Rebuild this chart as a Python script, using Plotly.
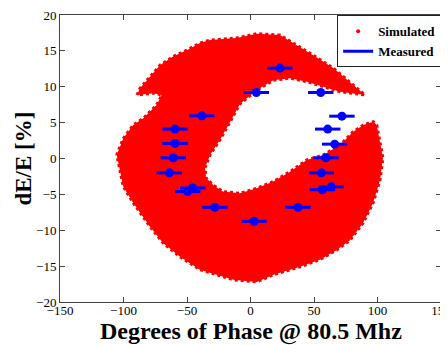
import plotly.graph_objects as go

# Simulated cloud: boundary of the dense red point region
sim_x = [-89.4, -87.0, -79.1, -71.3, -61.0, -50.2, -39.8, -31.9, -10.9, 4.9, 23.2, 36.4, 49.4, 65.2, 78.3, 90.2,
         70.5, 57.3, 44.3, 31.1, 18.0, 4.9, -8.3, -16.1, -24.0, -31.9, -35.8, -35.0, -29.5, -21.7, -8.3, 4.9, 18.0,
         31.1, 44.3, 57.3, 70.5, 80.9, 88.8, 96.7,
         99.4, 104.3, 102.0, 96.5, 88.6, 78.3, 67.9, 54.7, 39.0, 18.0, 4.9, -13.5, -26.6, -39.8, -55.5, -68.7,
         -79.1, -92.3, -100.2, -102.8, -105.3, -100.2, -92.3, -84.4, -79.1, -73.9, -69.9, -76.5, -89.4]
sim_y = [8.85, 9.78, 11.4, 13.0, 14.2, 15.1, 16.1, 16.5, 16.8, 17.4, 17.2, 15.8, 14.4, 12.6, 10.7, 8.85,
         9.31, 10.0, 10.7, 11.2, 10.9, 9.55, 7.6, 5.1, 2.6, 0.5, -1.3, -2.7, -3.7, -4.6, -4.85, -4.15, -3.2,
         -1.84, -0.2, 0.49, 1.88, 3.74, 4.67, 5.13,
         4.67, 0.07, -3.0, -6.2, -9.0, -11.4, -12.75, -14.1, -15.1, -16.2, -17.2, -16.9, -16.2, -15.5, -13.7, -11.8,
         -9.5, -6.2, -3.9, -1.6, 0.5, 2.8, 4.67, 5.6, 6.5, 7.46, 8.85, 9.1, 8.85]

# Measured points
meas_x = [23.2, 4.6, 55.3, 72.0, 60.8, 66.3, 59.4, 55.8, 56.6, 63.6, 37.4, 2.8,
          -38.4, -59.4, -59.4, -60.8, -63.9, -49.5, -45.5, -28.0]
meas_y = [12.6, 9.2, 9.2, 5.9, 4.1, 2.0, 0.1, -2.0, -4.35, -3.95, -6.8, -8.75,
          5.95, 4.1, 2.1, 0.1, -2.0, -4.6, -4.1, -6.8]
meas_err = [10] * len(meas_x)

x_ticks = [-150, -100, -50, 0, 50, 100, 150]
y_ticks = [-20, -15, -10, -5, 0, 5, 10, 15, 20]

serif = "Liberation Serif"

fig = go.Figure()
fig.add_trace(go.Scatter(x=sim_x, y=sim_y, mode="lines", fill="toself",
                         fillcolor="#ff0000", line=dict(color="#ff0000", width=3, dash="dot"),
                         showlegend=False, hoverinfo="skip"))
fig.add_trace(go.Scatter(x=meas_x, y=meas_y, mode="markers",
                         marker=dict(color="#0000ff", size=9),
                         error_x=dict(type="data", array=meas_err, color="#0000ff", thickness=3, width=0),
                         showlegend=False))
# legend entries
fig.add_trace(go.Scatter(x=[None], y=[None], mode="markers", name="Simulated",
                         marker=dict(color="#ff0000", size=4)))
fig.add_trace(go.Scatter(x=[None], y=[None], mode="lines", name="Measured",
                         line=dict(color="#0000ff", width=3)))

axis_common = dict(showline=True, linecolor="#444", linewidth=1, mirror="ticks", ticks="inside",
                   ticklen=5, tickcolor="#444", showgrid=False, zeroline=False,
                   ticklabeloverflow="allow", automargin=False,
                   tickfont=dict(family=serif, size=13, color="black"))
fig.update_xaxes(range=[-150, 150], tickvals=x_ticks, ticklabelstandoff=-4, **axis_common)
fig.update_yaxes(range=[-20, 20], tickvals=y_ticks, **axis_common)

# page body has an 8px default margin, so the figure is 8px smaller and margins shifted
fig.update_layout(
    width=440, height=337,
    margin=dict(l=52, r=7, t=7, b=43, autoexpand=False),
    paper_bgcolor="white", plot_bgcolor="white",
    legend=dict(x=1.003, y=0.999, xanchor="right", yanchor="top",
                bordercolor="#222", borderwidth=1, bgcolor="white",
                font=dict(family=serif, size=13, color="black", weight="bold"),
                tracegroupgap=0, itemwidth=30),
    annotations=[
        dict(text="<b>Degrees of Phase @ 80.5 Mhz</b>", xref="paper", yref="paper",
             x=0.5, y=-0.05, xanchor="center", yanchor="top", showarrow=False,
             font=dict(family=serif, size=24, color="black")),
        dict(text="<b>dE/E [%]</b>", xref="paper", yref="paper",
             x=-0.097, y=0.5, xanchor="center", yanchor="middle", textangle=-90, showarrow=False,
             font=dict(family=serif, size=23, color="black")),
    ],
)

fig.write_html("out.html")
